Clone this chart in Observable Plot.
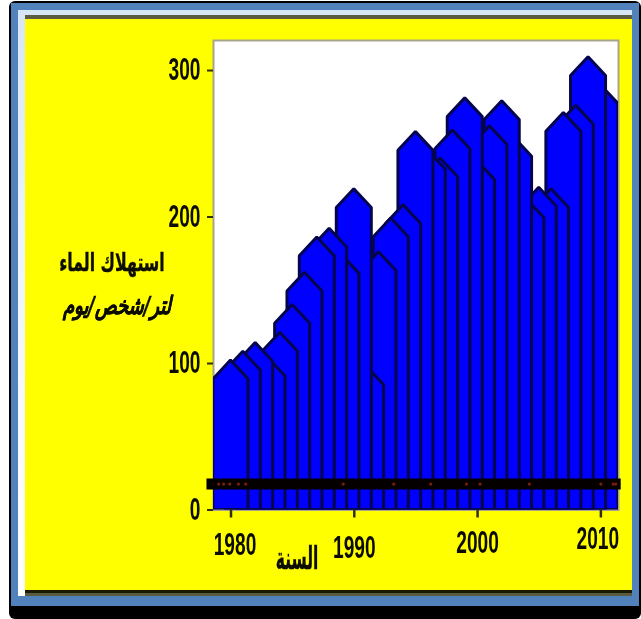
<!DOCTYPE html>
<html lang="ar">
<head>
<meta charset="utf-8">
<script src="https://cdn.jsdelivr.net/npm/d3@7"></script>
<script src="https://cdn.jsdelivr.net/npm/@observablehq/plot@0.6"></script>
<style>
html,body{margin:0;padding:0;background:#fff;width:641px;height:619px;overflow:hidden}
.box{position:absolute;box-sizing:border-box}
.ar{position:absolute;font-family:"DejaVu Sans Condensed","DejaVu Sans",sans-serif;font-weight:bold;color:#0c0c00;white-space:nowrap;direction:rtl;text-align:center;-webkit-text-stroke:.35px #0c0c00;filter:blur(.4px)}
svg{position:absolute;left:0;top:0;filter:blur(.7px)}
</style>
</head>
<body>
<div class="box" style="left:9px;top:1px;width:632px;height:618px;background:#000;border-radius:6px"></div>
<div class="box" style="left:11px;top:3px;width:628px;height:603px;background:#5282bb"></div>
<div class="box" style="left:18px;top:10px;width:614px;height:586px;background:linear-gradient(#d7e6f5,#eef4fb 40%,#fff)"></div>
<div class="box" style="left:25px;top:15px;width:607px;height:581px;background:#5b5b40"></div>
<div class="box" style="left:25px;top:19px;width:607px;height:571px;background:#ffff00"></div>
<div class="box" style="left:25px;top:590px;width:607px;height:3px;background:#1a1a00"></div>
<div id="chart"></div>
<div class="ar" style="left:112px;top:248px;font-size:25px;transform:translateX(-50%) scaleX(.7)">استهلاك الماء</div>
<div class="ar" style="left:117px;top:291px;font-size:25px;font-style:italic;transform:translateX(-50%) scaleX(.8)">لتر/شخص/يوم</div>
<div class="ar" style="left:297px;top:543px;font-size:26px;transform:translateX(-50%) scale(.66,1.2)">السنة</div>
<script>
const years = [1980,1981,1982,1983,1984,1985,1986,1987,1988,1989,1990,1991,1992,1993,1994,1995,1996,1997,1998,1999,2000,2001,2002,2003,2004,2005,2006,2007,2008,2009,2010];
const consumption = [102,108,114,104,121,140,162,186,192,174,219,98,176,199,208,258,245,240,259,281,238,262,279,254,212,220,219,271,276,309,290];
const bandValue = 17.7;
const bandYears = [1979,1979.4,1979.9,1980.6,1981.2,1989.1,1993.2,1996.2,1999.1,2000.2,2004.2,2010,2011,2011.2];
const yTicks = [0,100,200,300];
const xTickYears = [1980,1990,2000,2010];
const xTickPadding = [15,18,13,9];
const xTickShift = [4,0,0,-3];

const halfWidth = 1.42, shoulder = 12.8;
const spikes = years.map((year,i)=>({year,value:consumption[i]})).reverse().flatMap(d=>[
  {year:d.year,x:d.year-halfWidth,y:d.value-shoulder},
  {year:d.year,x:d.year,y:d.value},
  {year:d.year,x:d.year+halfWidth,y:d.value-shoulder}
]);
const tickFont = {fontFamily:"'Liberation Sans',sans-serif",fontSize:29,fontWeight:"bold"};
const chart = Plot.plot({
  width:641,height:619,
  marginLeft:213,marginRight:23,marginTop:40,marginBottom:109.5,
  style:{background:"transparent",overflow:"visible"},
  x:{domain:[1978.58,2011.43],label:null},
  y:{domain:[0,320.5],label:null},
  marks:[
    Plot.frame({fill:"#fff",stroke:"#a8a68a",strokeWidth:2}),
    Plot.areaY(spikes,{x:"x",y:"y",z:"year",fill:"#0000ff",stroke:"#05054e",strokeWidth:3,strokeLinejoin:"miter",clip:true}),
    Plot.ruleY([bandValue],{x1:1978.05,x2:2011.65,stroke:"#050000",strokeWidth:11}),
    Plot.dot(bandYears,{x:d=>d,y:()=>bandValue,r:1.6,fill:"#7a1f08"}),
    Plot.axisY({ticks:yTicks,tickSize:6,tickPadding:7,strokeWidth:2,stroke:"#302f10",fill:"#0c0c00",label:null,...tickFont}),
    Plot.axisX({ticks:xTickYears,tickSize:8,strokeWidth:2.5,stroke:"#302f10",label:null,tickFormat:()=>""}),
    ...xTickYears.map((yr,i)=>Plot.axisX({ticks:[yr],tickSize:0,tickPadding:xTickPadding[i]+8,dx:xTickShift[i],fill:"#0c0c00",label:null,tickFormat:d=>String(d),...tickFont}))
  ]
});
// the reference's digits are tall and tightly condensed
d3.select(chart).selectAll("g[aria-label$='tick label'] text").each(function(){
  const t = this.getAttribute("transform") || "";
  this.setAttribute("transform", t + " scale(.66,1.05)");
});
document.getElementById("chart").append(chart);
</script>
</body>
</html>
